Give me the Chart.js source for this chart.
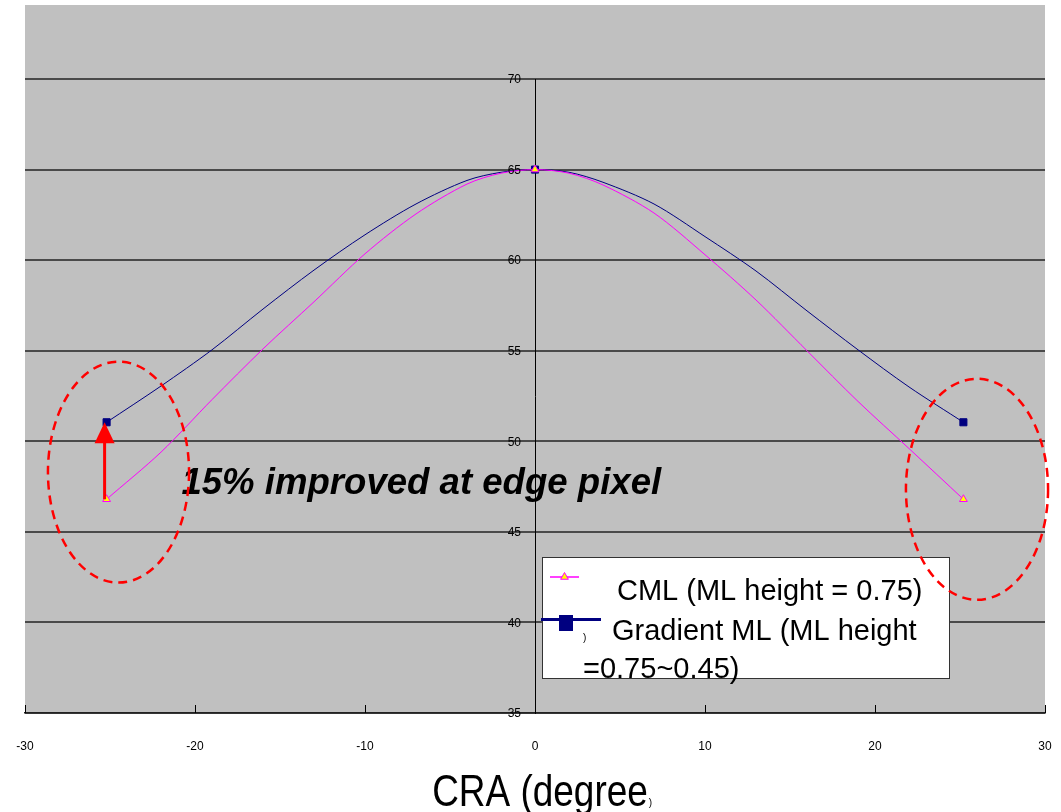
<!DOCTYPE html>
<html>
<head>
<meta charset="utf-8">
<script src="https://cdn.jsdelivr.net/npm/chart.js@4.4.0/dist/chart.umd.min.js"></script>
<style>
  html, body { margin: 0; padding: 0; background: #fff; }
  #wrap { width: 1061px; height: 812px; }
</style>
</head>
<body>
<div id="wrap"><canvas id="cra-chart"></canvas></div>
<script>
// Chief ray angle (degree) of each sample
const craAngles = [-25.2, -22, -19, -16, -13, -10, -7, -4, -2, 0, 2, 4, 7, 10, 13, 16, 19, 22, 25.2];
// Response of the two micro-lens designs
const cmlValues = [46.8, 49.4, 52.3, 55.1, 57.7, 60.35, 62.55, 64.2, 64.8, 65, 64.8, 64.15, 62.6, 60.3, 57.8, 55.0, 52.2, 49.6, 46.8];
const gradientValues = [51.05, 53.05, 55.05, 57.3, 59.45, 61.4, 63.1, 64.4, 64.85, 65, 64.85, 64.3, 63.1, 61.3, 59.4, 57.2, 55.05, 53.0, 51.05];
// Angles that carry a marker
const markedAngles = [-25.2, 0, 25.2];
const xTicks = [-30, -20, -10, 0, 10, 20, 30];
const yTicks = [35, 40, 45, 50, 55, 60, 65, 70];
const cmlLegend = ['CML (ML height = 0.75)'];
const gradientLegend = ['Gradient ML (ML height', '=0.75~0.45)'];
const noteText = '15% improved at edge pixel';
const axisTitle = 'CRA (degree';

const FONT = '"Liberation Sans", Arial, sans-serif';
const PINK = '#FF00FF';
const NAVY = '#000080';
const RED = '#FF0000';

function toPoints(values) {
  return craAngles.map((a, i) => ({ x: a, y: values[i] }));
}

function markerRadius(size) {
  return ctx => markedAngles.includes(craAngles[ctx.dataIndex]) ? size : 0;
}

// grey plot panel plus the note text, which sits under the axis line
const backdrop = {
  id: 'backdrop',
  beforeDraw(chart) {
    const { ctx, chartArea } = chart;
    const xs = chart.scales.x, ys = chart.scales.y;
    ctx.save();
    ctx.fillStyle = '#fff';
    ctx.fillRect(0, 0, chart.width, chart.height);
    ctx.fillStyle = '#C0C0C0';
    ctx.fillRect(chartArea.left, 5, chartArea.right - chartArea.left, chartArea.bottom - 5);

    ctx.fillStyle = '#000';
    ctx.font = 'italic bold 36.6px ' + FONT;
    ctx.textBaseline = 'alphabetic';
    ctx.fillText(noteText, xs.getPixelForValue(-20.8), ys.getPixelForValue(47.1));
    ctx.restore();
  }
};

// tick labels on both axes, short upward x tick marks and the axis title
const axisText = {
  id: 'axisText',
  afterDatasetsDraw(chart) {
    const { ctx, chartArea } = chart;
    const xs = chart.scales.x, ys = chart.scales.y;
    const x0 = xs.getPixelForValue(0);
    ctx.save();
    ctx.strokeStyle = '#000';
    ctx.lineWidth = 1;
    xs.ticks.forEach(t => {
      const px = Math.round(xs.getPixelForValue(t.value)) + 0.5;
      ctx.beginPath();
      ctx.moveTo(px, chartArea.bottom);
      ctx.lineTo(px, chartArea.bottom - 8);
      ctx.stroke();
    });

    ctx.fillStyle = '#000';
    ctx.font = '12px ' + FONT;
    ctx.textAlign = 'center';
    ctx.textBaseline = 'middle';
    xs.ticks.forEach(t => {
      ctx.fillText(String(t.value), xs.getPixelForValue(t.value), chartArea.bottom + 34);
    });
    ctx.textAlign = 'right';
    ys.ticks.forEach(t => {
      ctx.fillText(String(t.value), x0 - 14, ys.getPixelForValue(t.value) + 1);
    });

    ctx.textAlign = 'left';
    ctx.textBaseline = 'alphabetic';
    ctx.font = '44px ' + FONT;
    const squeeze = 0.84;
    const w = ctx.measureText(axisTitle).width * squeeze;
    const cx = x0 + 5;
    ctx.save();
    ctx.translate(cx - w / 2, 806);
    ctx.scale(squeeze, 1);
    ctx.fillText(axisTitle, 0, 0);
    ctx.restore();
    ctx.font = '10px ' + FONT;
    ctx.fillText(')', cx + w / 2 + 1, 806);
    ctx.restore();
  }
};

// arrow, legend box and the dashed rings round the edge pixels
const annotations = {
  id: 'annotations',
  afterDatasetsDraw(chart) {
    const { ctx } = chart;
    const xs = chart.scales.x, ys = chart.scales.y;
    const edge = craAngles[0];
    ctx.save();

    // arrow from CML edge value up to gradient edge value
    const ax = xs.getPixelForValue(edge) - 2;
    const yFrom = ys.getPixelForValue(cmlValues[0]);
    const yTo = ys.getPixelForValue(gradientValues[0]);
    ctx.strokeStyle = RED;
    ctx.fillStyle = RED;
    ctx.lineWidth = 3;
    ctx.beginPath();
    ctx.moveTo(ax, yFrom);
    ctx.lineTo(ax, yTo + 20);
    ctx.stroke();
    ctx.beginPath();
    ctx.moveTo(ax, yTo);
    ctx.lineTo(ax - 10, yTo + 21);
    ctx.lineTo(ax + 10, yTo + 21);
    ctx.closePath();
    ctx.fill();

    // legend
    const lx = 542, ly = 557, lw = 407, lh = 121;
    ctx.fillStyle = '#fff';
    ctx.fillRect(lx, ly, lw, lh);
    ctx.strokeStyle = '#333';
    ctx.lineWidth = 1;
    ctx.strokeRect(lx + 0.5, ly + 0.5, lw, lh);

    ctx.strokeStyle = PINK;
    ctx.lineWidth = 1.5;
    ctx.beginPath();
    ctx.moveTo(550, 577);
    ctx.lineTo(579, 577);
    ctx.stroke();
    ctx.fillStyle = '#FFFF00';
    ctx.strokeStyle = PINK;
    ctx.lineWidth = 1;
    Chart.helpers.drawPoint(ctx, { pointStyle: 'triangle', radius: 4.5, borderWidth: 1 }, 564.5, 577);

    ctx.strokeStyle = NAVY;
    ctx.lineWidth = 3;
    ctx.beginPath();
    ctx.moveTo(541, 619.5);
    ctx.lineTo(601, 619.5);
    ctx.stroke();
    ctx.fillStyle = NAVY;
    ctx.fillRect(559, 615, 14, 16);

    ctx.fillStyle = '#000';
    ctx.textBaseline = 'alphabetic';
    ctx.font = '29px ' + FONT;
    ctx.fillText(cmlLegend[0], 617, 600);
    ctx.fillText(gradientLegend[0], 612, 640);
    ctx.fillText(gradientLegend[1], 583, 678);
    ctx.font = '10px ' + FONT;
    ctx.fillText(')', 583, 641);

    // dashed rings
    ctx.strokeStyle = RED;
    ctx.lineWidth = 2.5;
    ctx.setLineDash([9, 6]);
    const ring = (cxv, cyv, rxv, ryv) => {
      const cx = xs.getPixelForValue(cxv), cy = ys.getPixelForValue(cyv);
      const rx = xs.getPixelForValue(cxv + rxv) - cx;
      const ry = cy - ys.getPixelForValue(cyv + ryv);
      ctx.beginPath();
      ctx.ellipse(cx, cy, rx, ry, 0, 0, Math.PI * 2);
      ctx.stroke();
    };
    ring(-24.5, 48.3, 4.15, 6.1);
    ring(26.0, 47.35, 4.18, 6.1);
    ctx.restore();
  }
};

new Chart(document.getElementById('cra-chart'), {
  type: 'line',
  data: {
    datasets: [
      {
        label: cmlLegend.join(' '),
        data: toPoints(cmlValues),
        borderColor: PINK,
        borderWidth: 1,
        pointStyle: 'triangle',
        pointRadius: markerRadius(4.5),
        pointBackgroundColor: '#FFFF00',
        pointBorderColor: PINK,
        pointBorderWidth: 1,
        tension: 0.3
      },
      {
        label: gradientLegend.join(' '),
        data: toPoints(gradientValues),
        borderColor: NAVY,
        borderWidth: 1,
        pointStyle: 'rect',
        pointRadius: markerRadius(5),
        pointBackgroundColor: NAVY,
        pointBorderColor: NAVY,
        pointBorderWidth: 1,
        tension: 0.3
      }
    ]
  },
  options: {
    responsive: true,
    maintainAspectRatio: false,
    animation: false,
    layout: { padding: { top: 79, left: 25, right: 16, bottom: 0 } },
    plugins: {
      legend: { display: false },
      tooltip: { enabled: false }
    },
    scales: {
      x: {
        type: 'linear',
        min: xTicks[0],
        max: xTicks[xTicks.length - 1],
        afterBuildTicks: s => { s.ticks = xTicks.map(v => ({ value: v })); },
        afterFit: s => { s.height = 99; },
        grid: { display: false, drawTicks: false },
        border: { display: true, color: '#222', width: 1.5 },
        ticks: { display: false }
      },
      y: {
        type: 'linear',
        position: { x: 0 },
        min: yTicks[0],
        max: yTicks[yTicks.length - 1],
        afterBuildTicks: s => { s.ticks = yTicks.map(v => ({ value: v })); },
        grid: { color: '#4a4a4a', lineWidth: 2, drawTicks: false },
        border: { display: true, color: '#000', width: 1 },
        ticks: { display: false }
      }
    }
  },
  plugins: [backdrop, axisText, annotations]
});
</script>
</body>
</html>
